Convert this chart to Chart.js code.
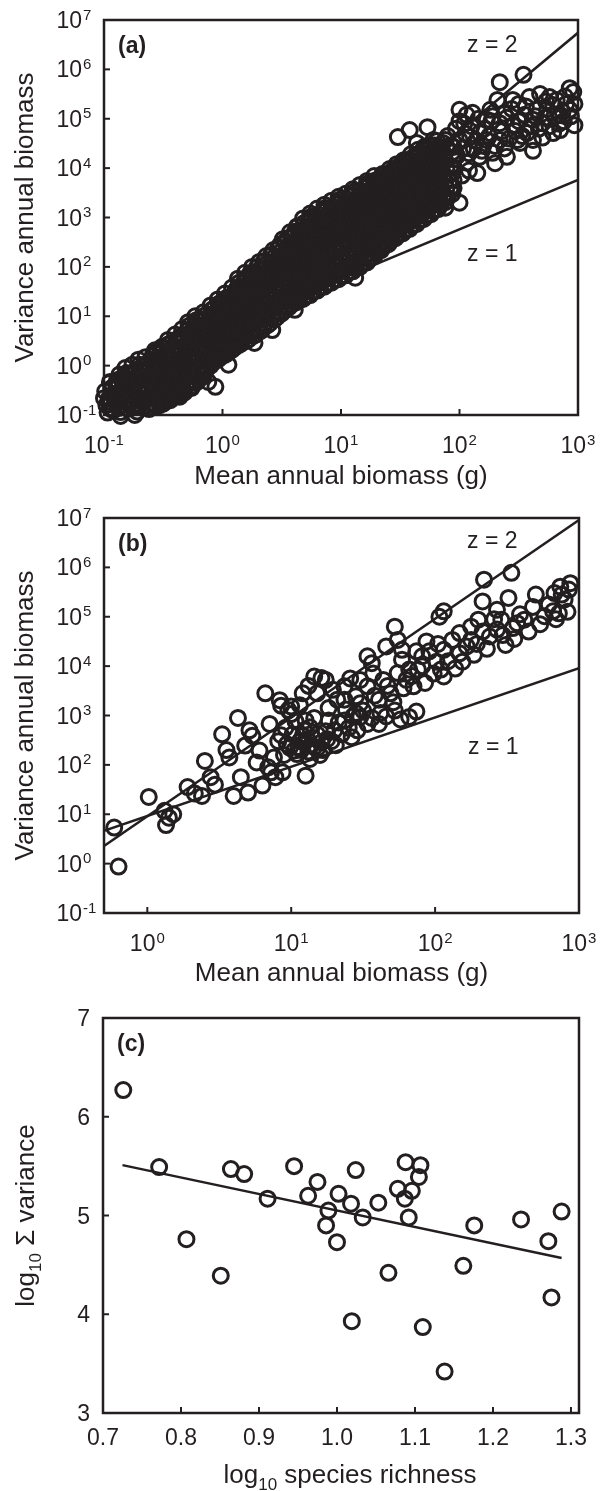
<!DOCTYPE html>
<html>
<head>
<meta charset="utf-8">
<script src="https://cdn.jsdelivr.net/npm/chart.js@4/dist/chart.umd.min.js"></script>
<style>
  html, body { margin: 0; padding: 0; background: #fff; }
  #wrap { position: relative; width: 600px; height: 1491px; }
  canvas { position: absolute; left: 0; }
</style>
</head>
<body>
<div id="wrap">
  <canvas id="ca" width="600" height="495" style="top:0px"></canvas>
  <canvas id="cb" width="600" height="505" style="top:495px"></canvas>
  <canvas id="cc" width="600" height="491" style="top:1000px"></canvas>
</div>
<script>
const INK = '#231f20';
const FONT = '"Liberation Sans", Arial, Helvetica, sans-serif';

// (a) all species: [log10 mean annual biomass, log10 variance]
const aLogPts = [
  [-0.97,-0.95],[-0.98,-0.80],[-0.96,-0.67],[-0.99,-0.52],
  [-0.92,-0.90],[-0.90,-0.75],[-0.91,-0.61],[-0.93,-0.46],[-0.90,-0.37],
  [-0.86,-0.94],[-0.84,-0.79],[-0.85,-0.66],[-0.87,-0.53],[-0.84,-0.41],[-0.85,-0.28],
  [-0.80,-0.87],[-0.78,-0.72],[-0.79,-0.59],[-0.81,-0.44],[-0.78,-0.31],[-0.80,-0.19],
  [-0.72,-0.93],[-0.74,-0.78],[-0.73,-0.64],[-0.71,-0.51],[-0.74,-0.35],[-0.72,-0.23],[-0.73,-0.09],
  [-0.68,-0.85],[-0.66,-0.70],[-0.67,-0.58],[-0.69,-0.42],[-0.66,-0.29],[-0.68,-0.14],[-0.67,0.01],
  [-0.62,-0.88],[-0.60,-0.75],[-0.61,-0.60],[-0.63,-0.48],[-0.60,-0.33],[-0.62,-0.20],[-0.61,-0.05],[-0.60,0.11],
  [-0.56,-0.83],[-0.54,-0.69],[-0.55,-0.55],[-0.57,-0.41],[-0.54,-0.27],[-0.56,-0.11],[-0.55,0.02],[-0.53,0.15],[-0.56,0.27],
  [-0.50,-0.77],[-0.48,-0.63],[-0.49,-0.49],[-0.51,-0.35],[-0.48,-0.21],[-0.50,-0.07],[-0.49,0.08],[-0.47,0.21],[-0.50,0.36],
  [-0.44,-0.70],[-0.42,-0.56],[-0.43,-0.42],[-0.45,-0.28],[-0.42,-0.14],[-0.44,0.01],[-0.43,0.14],[-0.41,0.29],[-0.44,0.45],
  [-0.38,-0.62],[-0.36,-0.48],[-0.37,-0.34],[-0.39,-0.20],[-0.36,-0.06],[-0.38,0.08],[-0.37,0.22],[-0.35,0.36],[-0.38,0.49],[-0.36,0.58],
  [-0.32,-0.54],[-0.30,-0.40],[-0.31,-0.26],[-0.33,-0.12],[-0.30,0.02],[-0.32,0.16],[-0.31,0.30],[-0.29,0.44],[-0.32,0.57],[-0.30,0.70],
  [-0.26,-0.45],[-0.24,-0.31],[-0.25,-0.17],[-0.27,-0.03],[-0.24,0.11],[-0.26,0.25],[-0.25,0.39],[-0.23,0.53],[-0.26,0.67],[-0.24,0.81],
  [-0.20,-0.29],[-0.18,-0.16],[-0.19,-0.02],[-0.21,0.12],[-0.18,0.26],[-0.20,0.40],[-0.19,0.54],[-0.17,0.68],[-0.20,0.82],[-0.18,0.94],
  [-0.14,-0.10],[-0.12,0.05],[-0.13,0.18],[-0.15,0.32],[-0.12,0.46],[-0.14,0.60],[-0.13,0.74],[-0.11,0.88],[-0.14,1.03],
  [-0.08,0.06],[-0.06,0.19],[-0.07,0.33],[-0.09,0.47],[-0.06,0.61],[-0.08,0.75],[-0.07,0.89],[-0.05,1.03],[-0.08,1.15],
  [-0.02,0.16],[0.00,0.29],[-0.01,0.43],[-0.03,0.57],[0.00,0.71],[-0.02,0.85],[-0.01,0.99],[0.01,1.13],[-0.02,1.27],
  [0.04,0.25],[0.06,0.39],[0.05,0.53],[0.03,0.67],[0.06,0.81],[0.04,0.95],[0.05,1.09],[0.07,1.23],[0.04,1.38],
  [0.10,0.36],[0.12,0.49],[0.11,0.63],[0.09,0.77],[0.12,0.91],[0.10,1.05],[0.11,1.19],[0.13,1.33],[0.10,1.46],[0.12,1.56],
  [0.16,0.45],[0.18,0.58],[0.17,0.72],[0.15,0.86],[0.18,1.00],[0.16,1.14],[0.17,1.28],[0.19,1.42],[0.16,1.56],[0.18,1.69],
  [0.22,0.53],[0.24,0.66],[0.23,0.80],[0.21,0.94],[0.24,1.08],[0.22,1.22],[0.23,1.36],[0.25,1.50],[0.22,1.64],[0.24,1.77],[0.23,1.86],
  [0.28,0.63],[0.30,0.75],[0.29,0.91],[0.27,1.03],[0.30,1.19],[0.28,1.31],[0.29,1.47],[0.31,1.59],[0.28,1.75],[0.30,1.87],[0.29,1.99],
  [0.34,0.74],[0.36,0.86],[0.35,1.02],[0.33,1.14],[0.36,1.30],[0.34,1.42],[0.35,1.58],[0.37,1.70],[0.34,1.86],[0.36,1.98],[0.35,2.11],
  [0.40,0.86],[0.42,0.98],[0.41,1.14],[0.39,1.26],[0.42,1.42],[0.40,1.54],[0.41,1.70],[0.43,1.82],[0.40,1.98],[0.42,2.10],[0.41,2.24],
  [0.46,0.98],[0.48,1.10],[0.47,1.26],[0.45,1.38],[0.48,1.54],[0.46,1.66],[0.47,1.82],[0.49,1.94],[0.46,2.10],[0.48,2.22],[0.47,2.38],
  [0.52,1.11],[0.54,1.23],[0.53,1.39],[0.51,1.51],[0.54,1.67],[0.52,1.79],[0.53,1.95],[0.55,2.07],[0.52,2.23],[0.54,2.35],[0.53,2.50],
  [0.58,1.23],[0.60,1.35],[0.59,1.51],[0.57,1.63],[0.60,1.79],[0.58,1.91],[0.59,2.07],[0.61,2.19],[0.58,2.35],[0.60,2.47],[0.59,2.62],[0.61,2.71],
  [0.64,1.31],[0.66,1.43],[0.65,1.59],[0.63,1.71],[0.66,1.87],[0.64,1.99],[0.65,2.15],[0.67,2.27],[0.64,2.43],[0.66,2.55],[0.65,2.70],[0.63,2.81],
  [0.70,1.39],[0.72,1.51],[0.71,1.67],[0.69,1.79],[0.72,1.95],[0.70,2.07],[0.71,2.23],[0.73,2.35],[0.70,2.51],[0.72,2.63],[0.71,2.79],[0.73,2.92],
  [0.76,1.49],[0.78,1.61],[0.77,1.77],[0.75,1.89],[0.78,2.05],[0.76,2.17],[0.77,2.33],[0.79,2.45],[0.76,2.61],[0.78,2.73],[0.77,2.89],[0.75,3.02],
  [0.82,1.58],[0.84,1.70],[0.83,1.86],[0.81,1.98],[0.84,2.14],[0.82,2.26],[0.83,2.42],[0.85,2.54],[0.82,2.70],[0.84,2.82],[0.83,2.98],[0.85,3.11],
  [0.88,1.66],[0.90,1.78],[0.89,1.94],[0.87,2.06],[0.90,2.22],[0.88,2.34],[0.89,2.50],[0.91,2.62],[0.88,2.78],[0.90,2.90],[0.89,3.06],[0.87,3.19],
  [0.94,1.74],[0.96,1.86],[0.95,2.02],[0.93,2.14],[0.96,2.30],[0.94,2.42],[0.95,2.58],[0.97,2.70],[0.94,2.86],[0.96,2.98],[0.95,3.14],[0.97,3.27],
  [1.00,1.81],[1.02,1.93],[1.01,2.09],[0.99,2.21],[1.02,2.37],[1.00,2.49],[1.01,2.65],[1.03,2.77],[1.00,2.93],[1.02,3.05],[1.01,3.21],[0.99,3.36],
  [1.06,1.89],[1.08,2.01],[1.07,2.17],[1.05,2.29],[1.08,2.45],[1.06,2.57],[1.07,2.73],[1.09,2.85],[1.06,3.01],[1.08,3.13],[1.07,3.29],[1.09,3.44],
  [1.12,1.97],[1.14,2.09],[1.13,2.25],[1.11,2.37],[1.14,2.53],[1.12,2.65],[1.13,2.81],[1.15,2.93],[1.12,3.09],[1.14,3.21],[1.13,3.37],[1.11,3.52],
  [1.18,2.06],[1.20,2.18],[1.19,2.34],[1.17,2.46],[1.20,2.62],[1.18,2.74],[1.19,2.90],[1.21,3.02],[1.18,3.18],[1.20,3.30],[1.19,3.46],[1.21,3.61],
  [1.24,2.16],[1.26,2.28],[1.25,2.44],[1.23,2.56],[1.26,2.72],[1.24,2.84],[1.25,3.00],[1.27,3.12],[1.24,3.28],[1.26,3.40],[1.25,3.56],[1.23,3.69],
  [1.30,2.29],[1.32,2.41],[1.31,2.57],[1.29,2.69],[1.32,2.85],[1.30,2.97],[1.31,3.13],[1.33,3.25],[1.30,3.41],[1.32,3.53],[1.31,3.67],[1.33,3.77],
  [1.36,2.41],[1.38,2.53],[1.37,2.69],[1.35,2.81],[1.38,2.97],[1.36,3.09],[1.37,3.25],[1.39,3.37],[1.36,3.53],[1.38,3.65],[1.37,3.79],[1.35,3.86],
  [1.42,2.53],[1.44,2.67],[1.43,2.81],[1.41,2.95],[1.44,3.09],[1.42,3.23],[1.43,3.37],[1.45,3.51],[1.42,3.65],[1.44,3.79],[1.43,3.94],
  [1.48,2.64],[1.50,2.78],[1.49,2.92],[1.47,3.06],[1.50,3.20],[1.48,3.34],[1.49,3.48],[1.51,3.62],[1.48,3.76],[1.50,3.90],[1.49,4.04],
  [1.54,2.73],[1.56,2.87],[1.55,3.01],[1.53,3.15],[1.56,3.29],[1.54,3.43],[1.55,3.57],[1.57,3.71],[1.54,3.85],[1.56,3.99],[1.55,4.14],
  [1.60,2.83],[1.62,2.97],[1.61,3.11],[1.59,3.25],[1.62,3.39],[1.60,3.53],[1.61,3.67],[1.63,3.81],[1.60,3.95],[1.62,4.09],[1.61,4.22],
  [1.66,2.93],[1.68,3.07],[1.67,3.21],[1.65,3.35],[1.68,3.49],[1.66,3.63],[1.67,3.77],[1.69,3.91],[1.66,4.05],[1.68,4.19],[1.67,4.30],
  [1.72,3.03],[1.74,3.17],[1.73,3.31],[1.71,3.45],[1.74,3.59],[1.72,3.73],[1.73,3.87],[1.75,4.01],[1.72,4.15],[1.74,4.29],[1.73,4.38],
  [1.78,3.13],[1.80,3.27],[1.79,3.41],[1.77,3.55],[1.80,3.69],[1.78,3.83],[1.79,3.97],[1.81,4.11],[1.78,4.25],[1.80,4.39],[1.79,4.46],
  [1.84,3.26],[1.86,3.40],[1.85,3.54],[1.83,3.68],[1.86,3.82],[1.84,3.96],[1.85,4.10],[1.87,4.24],[1.84,4.38],[1.86,4.51],
  // overlapping circles between the columns above
  [-0.94,-0.88],[-0.95,-0.74],[-0.93,-0.60],[-0.94,-0.46],[-0.95,-0.33],
  [-0.88,-0.86],[-0.89,-0.72],[-0.87,-0.58],[-0.88,-0.44],[-0.89,-0.30],[-0.87,-0.18],
  [-0.82,-0.85],[-0.83,-0.71],[-0.81,-0.57],[-0.82,-0.43],[-0.83,-0.29],[-0.81,-0.15],[-0.82,-0.05],
  [-0.76,-0.84],[-0.77,-0.70],[-0.75,-0.56],[-0.76,-0.42],[-0.77,-0.28],[-0.75,-0.14],[-0.76,0.02],
  [-0.70,-0.82],[-0.71,-0.68],[-0.69,-0.54],[-0.70,-0.40],[-0.71,-0.26],[-0.69,-0.12],[-0.70,0.02],[-0.71,0.12],
  [-0.64,-0.81],[-0.65,-0.67],[-0.63,-0.53],[-0.64,-0.39],[-0.65,-0.25],[-0.63,-0.11],[-0.64,0.03],[-0.65,0.17],
  [-0.58,-0.78],[-0.59,-0.64],[-0.57,-0.50],[-0.58,-0.36],[-0.59,-0.22],[-0.57,-0.08],[-0.58,0.06],[-0.59,0.20],[-0.57,0.31],
  [-0.52,-0.74],[-0.53,-0.60],[-0.51,-0.46],[-0.52,-0.32],[-0.53,-0.18],[-0.51,-0.04],[-0.52,0.10],[-0.53,0.24],[-0.51,0.38],
  [-0.46,-0.68],[-0.47,-0.54],[-0.45,-0.40],[-0.46,-0.26],[-0.47,-0.12],[-0.45,0.02],[-0.46,0.16],[-0.47,0.30],[-0.45,0.44],[-0.46,0.52],
  [-0.40,-0.60],[-0.41,-0.46],[-0.39,-0.32],[-0.40,-0.18],[-0.41,-0.04],[-0.39,0.10],[-0.40,0.24],[-0.41,0.38],[-0.39,0.52],[-0.40,0.63],
  [-0.34,-0.52],[-0.35,-0.38],[-0.33,-0.24],[-0.34,-0.10],[-0.35,0.04],[-0.33,0.18],[-0.34,0.32],[-0.35,0.46],[-0.33,0.60],[-0.34,0.74],
  [-0.28,-0.45],[-0.29,-0.31],[-0.27,-0.17],[-0.28,-0.03],[-0.29,0.11],[-0.27,0.25],[-0.28,0.39],[-0.29,0.53],[-0.27,0.67],[-0.28,0.81],[-0.29,0.88],
  [-0.22,-0.34],[-0.23,-0.20],[-0.21,-0.06],[-0.22,0.08],[-0.23,0.22],[-0.21,0.36],[-0.22,0.50],[-0.23,0.64],[-0.21,0.78],[-0.22,0.92],[-0.23,1.00],
  [-0.16,-0.18],[-0.17,-0.04],[-0.15,0.10],[-0.16,0.24],[-0.17,0.38],[-0.15,0.52],[-0.16,0.66],[-0.17,0.80],[-0.15,0.94],[-0.16,1.08],
  [-0.10,0.00],[-0.11,0.14],[-0.09,0.28],[-0.10,0.42],[-0.11,0.56],[-0.09,0.70],[-0.10,0.84],[-0.11,0.98],[-0.09,1.12],[-0.10,1.22],
  [-0.04,0.12],[-0.05,0.26],[-0.03,0.40],[-0.04,0.54],[-0.05,0.68],[-0.03,0.82],[-0.04,0.96],[-0.05,1.10],[-0.03,1.24],[-0.04,1.34],
  [0.02,0.22],[0.01,0.36],[0.03,0.50],[0.02,0.64],[0.01,0.78],[0.03,0.92],[0.02,1.06],[0.01,1.20],[0.03,1.34],[0.02,1.46],
  [0.08,0.32],[0.07,0.46],[0.09,0.60],[0.08,0.74],[0.07,0.88],[0.09,1.02],[0.08,1.16],[0.07,1.30],[0.09,1.44],[0.08,1.58],
  [0.14,0.42],[0.13,0.56],[0.15,0.70],[0.14,0.84],[0.13,0.98],[0.15,1.12],[0.14,1.26],[0.13,1.40],[0.15,1.54],[0.14,1.68],[0.13,1.76],
  [0.20,0.50],[0.19,0.64],[0.21,0.78],[0.20,0.92],[0.19,1.06],[0.21,1.20],[0.20,1.34],[0.19,1.48],[0.21,1.62],[0.20,1.76],[0.19,1.88],
  [0.26,0.60],[0.25,0.74],[0.27,0.88],[0.26,1.02],[0.25,1.16],[0.27,1.30],[0.26,1.44],[0.25,1.58],[0.27,1.72],[0.26,1.86],[0.25,2.00],
  [0.32,0.70],[0.31,0.84],[0.33,0.98],[0.32,1.12],[0.31,1.26],[0.33,1.40],[0.32,1.54],[0.31,1.68],[0.33,1.82],[0.32,1.96],[0.31,2.10],
  [0.38,0.82],[0.37,0.96],[0.39,1.10],[0.38,1.24],[0.37,1.38],[0.39,1.52],[0.38,1.66],[0.37,1.80],[0.39,1.94],[0.38,2.08],[0.37,2.22],
  [0.44,0.94],[0.43,1.08],[0.45,1.22],[0.44,1.36],[0.43,1.50],[0.45,1.64],[0.44,1.78],[0.43,1.92],[0.45,2.06],[0.44,2.20],[0.43,2.34],
  [0.50,1.06],[0.49,1.20],[0.51,1.34],[0.50,1.48],[0.49,1.62],[0.51,1.76],[0.50,1.90],[0.49,2.04],[0.51,2.18],[0.50,2.32],[0.49,2.46],[0.51,2.56],
  [0.56,1.18],[0.55,1.32],[0.57,1.46],[0.56,1.60],[0.55,1.74],[0.57,1.88],[0.56,2.02],[0.55,2.16],[0.57,2.30],[0.56,2.44],[0.55,2.58],[0.57,2.70],
  [0.62,1.28],[0.61,1.42],[0.63,1.56],[0.62,1.70],[0.61,1.84],[0.63,1.98],[0.62,2.12],[0.61,2.26],[0.63,2.40],[0.62,2.54],[0.61,2.68],[0.63,2.82],
  [0.68,1.35],[0.67,1.49],[0.69,1.63],[0.68,1.77],[0.67,1.91],[0.69,2.05],[0.68,2.19],[0.67,2.33],[0.69,2.47],[0.68,2.61],[0.67,2.75],[0.69,2.89],[0.68,2.98],
  [0.74,1.43],[0.73,1.57],[0.75,1.71],[0.74,1.85],[0.73,1.99],[0.75,2.13],[0.74,2.27],[0.73,2.41],[0.75,2.55],[0.74,2.69],[0.73,2.83],[0.75,2.97],[0.74,3.08],
  [0.80,1.52],[0.79,1.66],[0.81,1.80],[0.80,1.94],[0.79,2.08],[0.81,2.22],[0.80,2.36],[0.79,2.50],[0.81,2.64],[0.80,2.78],[0.79,2.92],[0.81,3.06],[0.80,3.18],
  [0.86,1.60],[0.85,1.74],[0.87,1.88],[0.86,2.02],[0.85,2.16],[0.87,2.30],[0.86,2.44],[0.85,2.58],[0.87,2.72],[0.86,2.86],[0.85,3.00],[0.87,3.14],[0.86,3.26],
  [0.92,1.68],[0.91,1.82],[0.93,1.96],[0.92,2.10],[0.91,2.24],[0.93,2.38],[0.92,2.52],[0.91,2.66],[0.93,2.80],[0.92,2.94],[0.91,3.08],[0.93,3.22],[0.92,3.34],
  [0.98,1.75],[0.97,1.89],[0.99,2.03],[0.98,2.17],[0.97,2.31],[0.99,2.45],[0.98,2.59],[0.97,2.73],[0.99,2.87],[0.98,3.01],[0.97,3.15],[0.99,3.29],[0.98,3.42],
  [1.04,1.83],[1.03,1.97],[1.05,2.11],[1.04,2.25],[1.03,2.39],[1.05,2.53],[1.04,2.67],[1.03,2.81],[1.05,2.95],[1.04,3.09],[1.03,3.23],[1.05,3.37],[1.04,3.48],
  [1.10,1.91],[1.09,2.05],[1.11,2.19],[1.10,2.33],[1.09,2.47],[1.11,2.61],[1.10,2.75],[1.09,2.89],[1.11,3.03],[1.10,3.17],[1.09,3.31],[1.11,3.45],[1.10,3.57],
  [1.16,2.00],[1.15,2.14],[1.17,2.28],[1.16,2.42],[1.15,2.56],[1.17,2.70],[1.16,2.84],[1.15,2.98],[1.17,3.12],[1.16,3.26],[1.15,3.40],[1.17,3.54],[1.16,3.66],
  [1.22,2.09],[1.21,2.23],[1.23,2.37],[1.22,2.51],[1.21,2.65],[1.23,2.79],[1.22,2.93],[1.21,3.07],[1.23,3.21],[1.22,3.35],[1.21,3.49],[1.23,3.63],[1.22,3.74],
  [1.28,2.21],[1.27,2.35],[1.29,2.49],[1.28,2.63],[1.27,2.77],[1.29,2.91],[1.28,3.05],[1.27,3.19],[1.29,3.33],[1.28,3.47],[1.27,3.61],[1.29,3.75],[1.28,3.84],
  [1.34,2.34],[1.33,2.48],[1.35,2.62],[1.34,2.76],[1.33,2.90],[1.35,3.04],[1.34,3.18],[1.33,3.32],[1.35,3.46],[1.34,3.60],[1.33,3.74],[1.35,3.88],
  [1.40,2.46],[1.39,2.60],[1.41,2.74],[1.40,2.88],[1.39,3.02],[1.41,3.16],[1.40,3.30],[1.39,3.44],[1.41,3.58],[1.40,3.72],[1.39,3.86],[1.41,3.98],
  [1.46,2.58],[1.45,2.72],[1.47,2.86],[1.46,3.00],[1.45,3.14],[1.47,3.28],[1.46,3.42],[1.45,3.56],[1.47,3.70],[1.46,3.84],[1.45,3.98],[1.47,4.08],
  [1.52,2.68],[1.51,2.82],[1.53,2.96],[1.52,3.10],[1.51,3.24],[1.53,3.38],[1.52,3.52],[1.51,3.66],[1.53,3.80],[1.52,3.94],[1.51,4.08],[1.53,4.16],
  [1.58,2.77],[1.57,2.91],[1.59,3.05],[1.58,3.19],[1.57,3.33],[1.59,3.47],[1.58,3.61],[1.57,3.75],[1.59,3.89],[1.58,4.03],[1.57,4.17],[1.59,4.28],
  [1.64,2.87],[1.63,3.01],[1.65,3.15],[1.64,3.29],[1.63,3.43],[1.65,3.57],[1.64,3.71],[1.63,3.85],[1.65,3.99],[1.64,4.13],[1.63,4.27],[1.65,4.37],
  [1.70,2.97],[1.69,3.11],[1.71,3.25],[1.70,3.39],[1.69,3.53],[1.71,3.67],[1.70,3.81],[1.69,3.95],[1.71,4.09],[1.70,4.23],[1.69,4.37],[1.71,4.44],
  [1.76,3.07],[1.75,3.21],[1.77,3.35],[1.76,3.49],[1.75,3.63],[1.77,3.77],[1.76,3.91],[1.75,4.05],[1.77,4.19],[1.76,4.33],[1.75,4.47],
  [1.82,3.17],[1.81,3.31],[1.83,3.45],[1.82,3.59],[1.81,3.73],[1.83,3.87],[1.82,4.01],[1.81,4.15],[1.83,4.29],[1.82,4.43],[1.81,4.55],
  [1.88,3.31],[1.87,3.45],[1.89,3.59],[1.88,3.73],[1.87,3.87],[1.89,4.01],[1.88,4.15],[1.87,4.29],[1.89,4.43],[1.88,4.57],
  [1.94,3.48],[1.93,3.62],[1.95,3.76],[1.94,3.90],[1.93,4.04],[1.95,4.18],[1.94,4.32],[1.93,4.46],
  // stragglers below the band
  [-1.00,-0.66],[-0.86,-1.02],[-0.74,-1.00],[-0.53,-0.80],[-0.36,-0.63],[-0.16,-0.22],[-0.12,-0.33],[-0.06,-0.43],
  [0.05,0.02],[0.27,0.46],[0.42,0.72],[0.61,1.13],[1.12,1.78],
  // sparser upper end
  [1.48,4.63],[1.58,4.77],[1.64,4.51],[1.73,4.83],[1.78,4.57],[1.88,3.20],[1.90,3.40],[1.92,3.76],[1.95,3.60],
  [1.95,4.02],[1.95,4.43],[1.90,4.65],[1.97,4.80],[2.00,4.57],[2.00,3.30],[2.02,3.85],[2.04,4.90],[2.00,5.18],
  [2.06,5.08],[2.06,4.11],[2.08,3.95],[2.09,4.63],[2.11,5.12],[2.12,4.40],[2.15,3.90],[2.17,4.71],[2.17,4.23],
  [2.20,4.45],[2.23,4.98],[2.23,4.57],[2.26,5.18],[2.28,4.31],[2.30,4.10],[2.32,5.38],[2.34,5.74],[2.34,4.91],
  [2.34,4.57],[2.38,4.40],[2.40,5.02],[2.40,4.23],[2.45,5.38],[2.45,4.87],[2.49,4.57],[2.51,4.51],[2.54,5.89],
  [2.55,5.08],[2.57,4.71],[2.59,5.44],[2.62,4.98],[2.62,4.57],[2.62,4.35],[2.65,5.18],[2.70,4.91],[2.70,4.62],
  [2.72,5.02],[2.74,5.20],[2.76,5.44],[2.79,5.28],[2.79,4.71],[2.82,5.38],[2.85,5.08],[2.85,4.77],[2.87,5.14],
  [2.88,4.95],[2.90,5.30],[2.93,5.62],[2.93,5.18],[2.96,5.54],[2.97,4.87],
  [1.98,4.25],[2.00,4.95],[2.03,4.40],[2.05,4.70],[2.08,4.30],[2.10,4.85],[2.14,4.55],[2.16,5.00],[2.19,4.35],
  [2.21,4.80],[2.25,4.65],[2.27,4.95],[2.30,4.45],[2.36,4.75],[2.38,5.10],[2.42,4.60],[2.44,5.20],[2.47,4.75],
  [2.50,4.95],[2.53,4.65],[2.56,5.25],[2.60,4.85],[2.64,5.05],[2.67,4.80],[2.73,5.35],[2.76,4.85],[2.80,5.05],
  [2.84,4.90],[2.89,5.45],[2.94,5.05],[2.97,5.30],[2.68,5.50],[2.50,5.30],[2.28,5.05]
];
// guide lines (a): [mean, variance] at both ends
const aZ2 = [[0.1, 0.055], [1000, 5.5e6]];
const aZ1 = [[0.1, 0.57], [1000, 5.75e3]];

// (b) species means: [log10 mean, log10 variance]
const bLogPts = [
  [-0.23,0.73],[-0.20,-0.06],[0.01,1.35],[0.12,1.07],[0.15,0.93],[0.13,0.78],[0.18,1.00],[0.33,1.42],[0.38,1.37],
  [0.40,2.08],[0.47,1.60],[0.55,2.30],[0.57,2.15],[0.60,1.37],[0.65,1.75],[0.70,1.44],[0.68,2.39],[0.71,2.70],
  [0.73,2.59],[0.78,2.29],[0.80,1.58],[0.84,1.95],[0.86,1.85],[0.89,1.75],[0.94,1.85],[0.85,2.83],[0.97,2.42],
  [1.00,3.03],[1.02,2.29],[1.05,2.36],[1.08,2.59],[1.10,1.78],[1.10,2.90],[1.13,2.76],[1.16,2.36],[1.21,2.46],
  [1.26,2.90],[1.30,2.70],[1.37,2.90],[1.42,2.56],[1.48,2.97],[1.53,2.83],[1.61,2.83],[1.72,3.10],[1.82,2.97],
  [1.04,2.22],[1.07,2.30],[1.09,2.45],[1.12,2.27],[1.14,2.40],[1.18,2.33],[1.11,2.52],[1.15,2.55],[1.06,2.48],
  [1.20,2.20],[0.99,2.35],[1.13,2.12],[0.93,2.60],[0.96,2.75],[1.18,2.62],[1.24,2.68],[1.35,2.62],[1.40,2.75],
  [1.28,2.48],[1.45,3.05],[1.56,2.95],[1.66,2.98],[1.76,2.92],[1.87,3.08],
  [0.98,3.11],[0.82,3.45],[0.92,3.31],[1.06,3.21],[1.00,3.18],[1.08,3.45],[1.18,3.45],[1.29,3.52],[1.37,3.32],
  [1.48,3.25],[1.32,3.32],[1.21,3.76],[1.16,3.79],[1.24,3.72],[1.37,3.59],[1.45,3.39],[1.53,3.59],[1.61,3.32],
  [1.69,3.45],[1.64,3.72],[1.48,3.72],[1.56,4.06],[1.53,4.20],[1.66,4.40],[1.74,3.86],[1.85,3.59],[1.93,3.66],
  [1.80,3.72],[1.82,3.93],[1.77,4.13],[1.77,4.33],[1.74,4.53],[1.72,4.80],[1.94,4.50],[1.91,4.20],[1.88,3.93],
  [1.91,4.00],[2.04,3.93],[2.06,3.79],[2.01,4.09],[2.19,4.09],[2.06,4.33],[2.17,4.26],[2.27,4.23],[2.12,4.53],
  [2.25,4.53],[2.17,4.67],[2.25,4.80],[2.38,4.60],[2.43,4.74],[2.49,4.43],[2.54,4.77],[2.30,4.94],[2.46,4.94],
  [2.62,4.94],[2.57,4.87],[2.43,5.14],[2.33,5.31],[2.06,5.11],[2.03,5.00],[2.34,5.75],[2.53,5.89],[2.51,5.38],
  [2.70,5.45],[2.76,5.01],[2.82,5.11],[2.86,5.07],[2.83,5.48],[2.87,5.61],[2.93,5.55],[2.88,5.45],[2.94,5.68],
  [0.88,2.15],[0.91,2.48],[0.95,2.20],[1.01,2.62],[1.03,2.88],[1.09,2.70],[1.16,2.95],[1.22,2.30],[1.25,2.52],
  [1.31,2.40],[1.33,2.86],[1.38,3.12],[1.43,2.98],[1.46,2.70],[1.50,3.10],[1.58,3.40],[1.62,3.05],[1.67,3.60],
  [1.71,3.27],[1.78,3.55],[1.84,3.80],[1.87,4.30],[1.96,4.30],[1.99,3.85],[2.02,4.45],[2.09,4.10],[2.14,3.95],
  [2.22,4.40],[2.29,4.45],[2.33,4.70],[2.36,4.35],[2.41,4.95],[2.47,4.63],[2.55,4.55],[2.59,5.05],[2.65,4.70],
  [2.68,5.20],[2.73,4.85],[2.79,5.25],[2.84,4.95],[2.90,5.35],[2.92,5.10],[0.52,2.62],[0.63,2.95],[0.76,2.05],
  [0.44,1.75],[0.28,1.55],[0.93,3.20],[1.12,3.60],[1.26,3.15],[1.41,3.75],[1.57,3.85]
];
const bZ2 = [[0.5, 2.28], [1000, 9.1e6]];
const bZ1 = [[0.5, 4.6], [1000, 9.1e3]];

// (c) communities
const cRichness = [0.726,0.772,0.807,0.851,0.864,0.881,0.911,0.945,0.963,0.975,0.986,0.989,1.000,1.002,1.018,1.019,1.024,1.033,
  1.053,1.066,1.078,1.087,1.088,1.092,1.096,1.105,1.107,1.110,1.138,1.162,1.176,1.236,1.271,1.275,1.288];
const cVariance = [6.27,5.49,4.76,4.39,5.47,5.42,5.17,5.50,5.20,5.34,4.90,5.05,4.73,5.22,5.12,3.93,5.46,4.98,
  5.13,4.42,5.27,5.17,5.54,4.98,5.25,5.39,5.51,3.87,3.42,4.49,4.90,4.96,4.74,4.17,5.04];
const cFit = [[0.725, 5.51], [1.288, 4.57]];

// axis ticks (exponents for the log panels)
const aXExp = [-1, 0, 1, 2, 3];
const bXExp = [0, 1, 2, 3];
const logYExp = [-1, 0, 1, 2, 3, 4, 5, 6, 7];
const cXTicks = ['0.7', '0.8', '0.9', '1.0', '1.1', '1.2', '1.3'];
const cYTicks = ['3', '4', '5', '6', '7'];

function drawPow(ctx, exp, x, y, align) {
  ctx.font = '23px ' + FONT;
  const wb = ctx.measureText('10').width;
  ctx.font = '15px ' + FONT;
  const we = ctx.measureText(String(exp)).width;
  const x0 = align === 'center' ? x - (wb + 1 + we) / 2 : x - wb;
  ctx.textAlign = 'left';
  ctx.font = '23px ' + FONT;
  ctx.fillText('10', x0, y);
  ctx.font = '15px ' + FONT;
  ctx.fillText(String(exp), x0 + wb + 1, y - 8.5);
}

// text made of pieces, e.g. log + subscript 10
function drawParts(ctx, parts, cx, y) {
  let total = 0;
  parts.forEach(p => { ctx.font = p.size + 'px ' + FONT; total += ctx.measureText(p.t).width; });
  let x = cx - total / 2;
  ctx.textAlign = 'left';
  parts.forEach(p => {
    ctx.font = p.size + 'px ' + FONT;
    ctx.fillText(p.t, x, y + (p.dy || 0));
    x += ctx.measureText(p.t).width;
  });
}

function axesPlugin(o) {
  return {
    id: 'axes',
    afterDatasetsDraw(chart) {
      const { ctx, chartArea: ca } = chart;
      const sx = chart.scales.x, sy = chart.scales.y;
      ctx.save();
      ctx.strokeStyle = INK;
      ctx.fillStyle = INK;
      ctx.lineWidth = 2.5;
      ctx.strokeRect(ca.left, ca.top, ca.right - ca.left, ca.bottom - ca.top);
      ctx.lineWidth = 2;
      ctx.textBaseline = 'alphabetic';

      o.xTicks.forEach(t => {
        const px = sx.getPixelForValue(o.log ? Math.pow(10, t) : Number(t));
        if (px > ca.left + 3 && px < ca.right - 3) {
          ctx.beginPath(); ctx.moveTo(px, ca.bottom); ctx.lineTo(px, ca.bottom - 6); ctx.stroke();
        }
        if (o.log) drawPow(ctx, t, px, ca.bottom + 38, 'center');
        else { ctx.font = '23px ' + FONT; ctx.textAlign = 'center'; ctx.fillText(t, px, ca.bottom + 32); }
      });
      o.yTicks.forEach(t => {
        const py = sy.getPixelForValue(o.log ? Math.pow(10, t) : Number(t));
        if (py > ca.top + 3 && py < ca.bottom - 3) {
          ctx.beginPath(); ctx.moveTo(ca.left, py); ctx.lineTo(ca.left + 6, py); ctx.stroke();
        }
        if (o.log) drawPow(ctx, t, 82, py + 8, 'right');
        else { ctx.font = '23px ' + FONT; ctx.textAlign = 'right'; ctx.fillText(t, 90, py + 8); }
      });

      const cx = o.xTitleX || (ca.left + ca.right) / 2;
      drawParts(ctx, o.xTitle, cx, ca.bottom + o.xTitleDy);
      ctx.save();
      ctx.translate(o.yTitleX, (ca.top + ca.bottom) / 2);
      ctx.rotate(-Math.PI / 2);
      drawParts(ctx, o.yTitle, 0, 0);
      ctx.restore();

      ctx.textAlign = 'left';
      ctx.font = 'bold 23px ' + FONT;
      ctx.fillText(o.tag, ca.left + 14, ca.top + 33);
      ctx.font = '23px ' + FONT;
      (o.notes || []).forEach(n => ctx.fillText(n.t, ca.left + n.dx, ca.top + n.dy));
      ctx.restore();
    }
  };
}

function circles(points) {
  return {
    data: points,
    pointStyle: 'circle',
    pointRadius: 7.5,
    borderWidth: 3,
    borderColor: INK,
    backgroundColor: 'rgba(0,0,0,0)',
    showLine: false,
    clip: false
  };
}
function fitLine(ends) {
  return {
    data: ends.map(p => ({ x: p[0], y: p[1] })),
    showLine: true,
    borderColor: INK,
    borderWidth: 2.5,
    pointRadius: 0,
    fill: false,
    clip: 0
  };
}
function baseOptions(padding, x, y) {
  return {
    responsive: false,
    animation: false,
    events: [],
    layout: { padding },
    plugins: { legend: { display: false }, tooltip: { enabled: false } },
    scales: { x: Object.assign({ display: false }, x), y: Object.assign({ display: false }, y) }
  };
}

const meanTitle = [{ t: 'Mean annual biomass (g)', size: 26 }];
const varTitle = [{ t: 'Variance annual biomass', size: 26 }];
const fromLog = pts => pts.map(p => ({ x: Math.pow(10, p[0]), y: Math.pow(10, p[1]) }));

new Chart(document.getElementById('ca'), {
  type: 'scatter',
  data: { datasets: [fitLine(aZ2), fitLine(aZ1), circles(fromLog(aLogPts))] },
  options: baseOptions({ left: 104, right: 22, top: 20, bottom: 80 },
    { type: 'logarithmic', min: 0.1, max: 1000 },
    { type: 'logarithmic', min: 0.1, max: 1e7 }),
  plugins: [axesPlugin({
    log: true, xTicks: aXExp, yTicks: logYExp,
    xTitle: meanTitle, xTitleDy: 69, yTitle: varTitle, yTitleX: 33,
    tag: '(a)',
    notes: [{ t: 'z = 2', dx: 363, dy: 32 }, { t: 'z = 1', dx: 363, dy: 241 }]
  })]
});

new Chart(document.getElementById('cb'), {
  type: 'scatter',
  data: { datasets: [fitLine(bZ2), fitLine(bZ1), circles(fromLog(bLogPts))] },
  options: baseOptions({ left: 104, right: 21, top: 23, bottom: 87 },
    { type: 'logarithmic', min: 0.5, max: 1000 },
    { type: 'logarithmic', min: 0.1, max: 1e7 }),
  plugins: [axesPlugin({
    log: true, xTicks: bXExp, yTicks: logYExp,
    xTitle: meanTitle, xTitleDy: 68, yTitle: varTitle, yTitleX: 33,
    tag: '(b)',
    notes: [{ t: 'z = 2', dx: 363, dy: 30 }, { t: 'z = 1', dx: 364, dy: 236 }]
  })]
});

new Chart(document.getElementById('cc'), {
  type: 'scatter',
  data: {
    datasets: [
      fitLine(cFit),
      circles(cRichness.map((r, i) => ({ x: r, y: cVariance[i] })))
    ]
  },
  options: baseOptions({ left: 103, right: 21, top: 18, bottom: 78 },
    { type: 'linear', min: 0.7, max: 1.3103 },
    { type: 'linear', min: 3, max: 7 }),
  plugins: [axesPlugin({
    log: false, xTicks: cXTicks, yTicks: cYTicks,
    xTitle: [{ t: 'log', size: 26 }, { t: '10', size: 17, dy: 7 }, { t: ' species richness', size: 26 }],
    xTitleX: 350, xTitleDy: 70,
    yTitle: [{ t: 'log', size: 26 }, { t: '10', size: 17, dy: 7 }, { t: ' \u03a3 variance', size: 26 }],
    yTitleX: 34,
    tag: '(c)'
  })]
});
</script>
</body>
</html>
